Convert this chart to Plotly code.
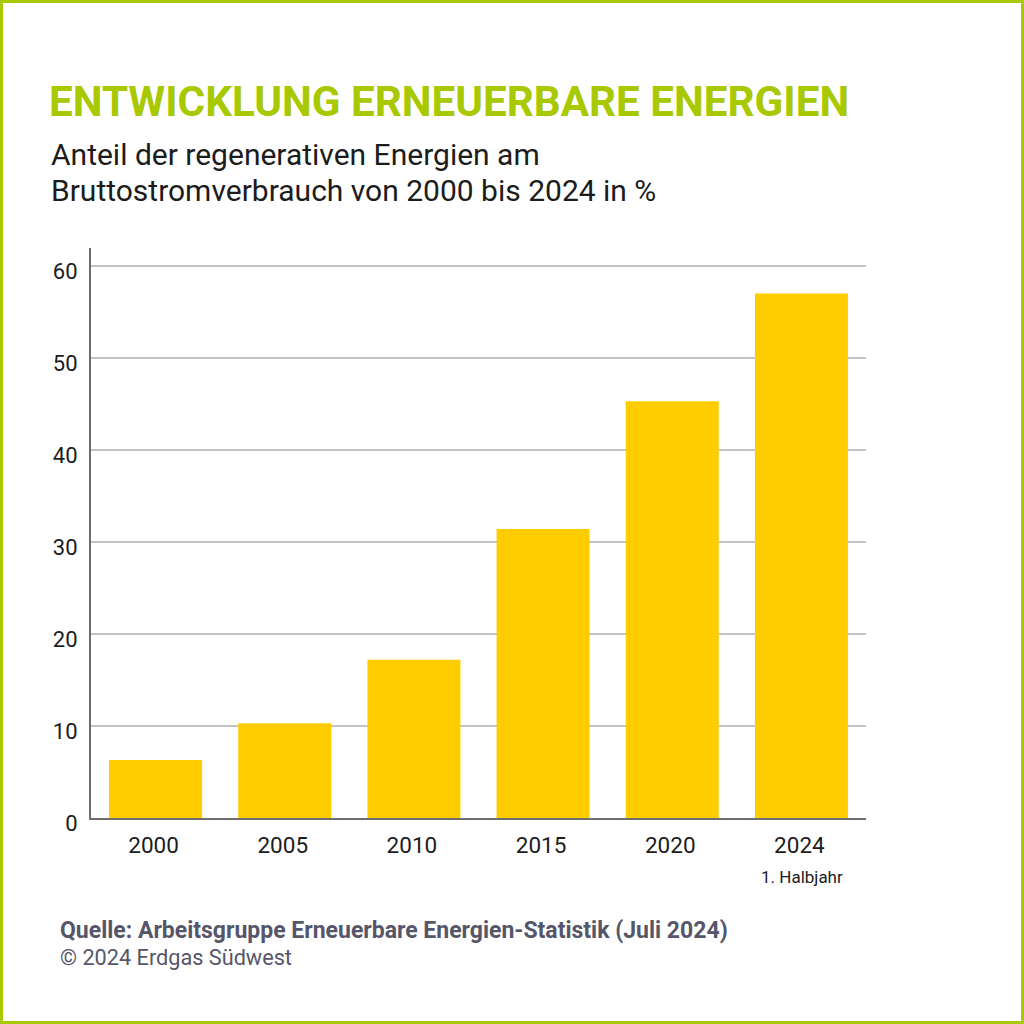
import plotly.graph_objects as go

years = ["2000", "2005", "2010", "2015", "2020", "2024"]
shares = [6.3, 10.3, 17.2, 31.4, 45.3, 57.0]
y_ticks = [0, 10, 20, 30, 40, 50, 60]

W = H = 1024
L, R, T, B = 91, 866, 248, 818
PW, PH = R - L, B - T
FONT = "Roboto"
GREEN = "#a8c800"
DARK = "#1c1c1c"
GREY = "#56566a"


def px(x):
    return (x - L) / PW


def py(y):
    return (B - y) / PH


fig = go.Figure(go.Bar(x=years, y=shares, marker=dict(color="#ffcc00", line_width=0), width=0.72))
fig.update_layout(
    width=W, height=H, autosize=False,
    margin=dict(l=L, r=W - R, t=T, b=H - B, pad=0),
    paper_bgcolor="white", plot_bgcolor="white",
    font=dict(family=FONT, color=DARK, size=23),
    showlegend=False, bargap=0.28,
)
fig.update_xaxes(type="category", showgrid=False, showline=True, linecolor="#6e6e6e", linewidth=2,
                 ticks="", ticklabelstandoff=6, ticklabelshift=-2, tickfont=dict(size=22.5, color=DARK), zeroline=False)
fig.update_yaxes(range=[0, 570 / 9.2], tickvals=y_ticks, showgrid=True, gridcolor="#c4c4c4", gridwidth=2,
                 showline=True, linecolor="#6e6e6e", linewidth=2, ticks="", zeroline=False,
                 ticklabelstandoff=7, ticklabelshift=5, tickfont=dict(size=22, color=DARK))


def text(s, x, y, size, color=DARK, anchor="left", bold=False):
    fig.add_annotation(text=f"<b>{s}</b>" if bold else s, xref="paper", yref="paper", x=px(x), y=py(y),
                       xanchor=anchor, yanchor="middle", showarrow=False, borderpad=0, borderwidth=0,
                       font=dict(family=FONT, size=size, color=color))


text("ENTWICKLUNG ERNEUERBARE ENERGIEN", 49, 101, 42.2, GREEN, bold=True)
text("Anteil der regenerativen Energien am", 51, 155, 30)
text("Bruttostromverbrauch von 2000 bis 2024 in %", 51, 191, 30)
text("1. Halbjahr", 802, 877, 17, anchor="center")
text("Quelle: Arbeitsgruppe Erneuerbare Energien-Statistik (Juli 2024)", 60, 930, 23, GREY, bold=True)
text("© 2024 Erdgas Südwest", 60, 957, 21.7, GREY)

fig.add_shape(type="rect", xref="paper", yref="paper", x0=px(1.5), x1=px(W - 1.5), y0=py(H - 1.5), y1=py(1.5),
              line=dict(color=GREEN, width=3), fillcolor="rgba(0,0,0,0)", layer="above")

fig.write_html("out.html", config={"displayModeBar": False}, post_script="document.body.style.margin='0';")
